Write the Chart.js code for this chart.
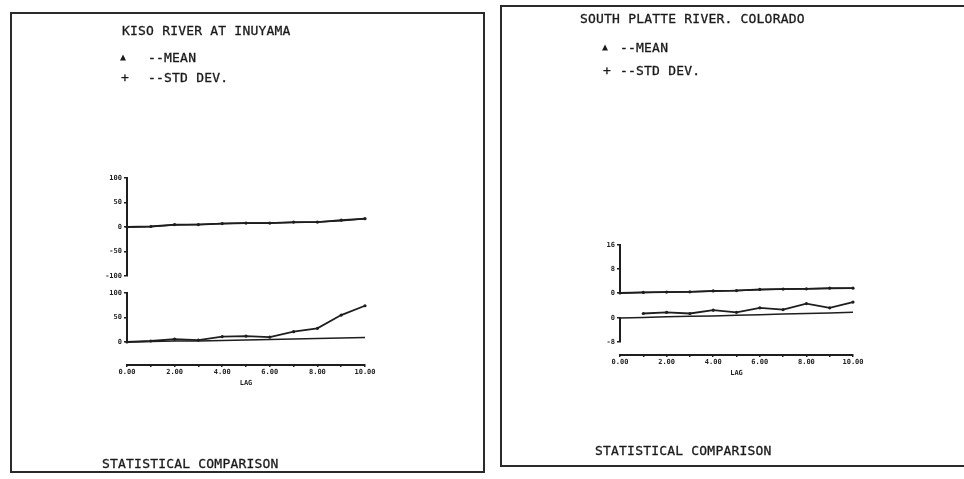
<!DOCTYPE html>
<html>
<head>
<meta charset="utf-8">
<script src="https://cdn.jsdelivr.net/npm/chart.js@4.4.1/dist/chart.umd.min.js"></script>
<style>
  body { margin: 0; background: #fff; width: 964px; height: 479px; position: relative; overflow: hidden;
         font-family: 'DejaVu Sans Mono', monospace; color: #1a1a1a; }
  .panel { position: absolute; border: 2px solid #2a2a2a; box-sizing: border-box; }
  .txt { position: absolute; font-size: 13px; letter-spacing: 0.2px; white-space: nowrap; line-height: 1;
         -webkit-text-stroke: 0.3px #1a1a1a; }
  .mark { position: absolute; font-size: 10px; line-height: 1; }
  canvas { position: absolute; }
</style>
</head>
<body>
<div class="panel" style="left:10px;top:12px;width:475px;height:461px"></div>
<div class="panel" style="left:500px;top:5px;width:470px;height:462px"></div>

<canvas id="kiso" width="475" height="461" style="left:10px;top:12px"></canvas>
<canvas id="platte" width="464" height="462" style="left:500px;top:5px"></canvas>

<div class="txt" style="left:122px;top:24px">KISO RIVER AT INUYAMA</div>
<div class="mark" style="left:120px;top:52px">▲</div>
<div class="txt" style="left:148px;top:51px">--MEAN</div>
<div class="txt" style="left:121px;top:71px">+</div>
<div class="txt" style="left:148px;top:71px">--STD DEV.</div>
<div class="txt" style="left:102px;top:457px">STATISTICAL COMPARISON</div>

<div class="txt" style="left:580px;top:12px">SOUTH PLATTE RIVER. COLORADO</div>
<div class="mark" style="left:602px;top:42px">▲</div>
<div class="txt" style="left:620px;top:41px">--MEAN</div>
<div class="txt" style="left:603px;top:64px">+</div>
<div class="txt" style="left:620px;top:64px">--STD DEV.</div>
<div class="txt" style="left:595px;top:444px">STATISTICAL COMPARISON</div>

<script>
const lags = [0, 1, 2, 3, 4, 5, 6, 7, 8, 9, 10];
const lagTicks = ['0.00', '2.00', '4.00', '6.00', '8.00', '10.00'];

// Kiso River at Inuyama
const kisoMeanHist = [0, 1, 4, 5, 7, 8, 8, 9, 10, 13, 17];
const kisoMeanGen = [0, 1, 5, 5, 7, 8, 8, 10, 10, 14, 17];
const kisoStdHist = [0, 1, 2, 2, 3, 4, 5, 6, 7, 8, 9];
const kisoStdGen = [0, 2, 6, 4, 11, 12, 10, 21, 28, 55, 74];
const kisoMeanTicks = [-100, -50, 0, 50, 100];
const kisoStdTicks = [0, 50, 100];

// South Platte River, Colorado
const platteMeanHist = [0, 0.2, 0.3, 0.4, 0.6, 0.8, 1.1, 1.3, 1.4, 1.5, 1.6];
const platteMeanGen = [0, 0.2, 0.3, 0.4, 0.7, 0.8, 1.2, 1.3, 1.4, 1.6, 1.6];
const platteStdHist = [0, 0.2, 0.4, 0.6, 0.7, 0.9, 1.1, 1.3, 1.5, 1.7, 1.9];
const platteStdGen = [null, 1.5, 1.9, 1.5, 2.6, 1.9, 3.4, 2.8, 4.8, 3.4, 5.3];
const platteMeanTicks = [0, 8, 16];
const platteStdTicks = [-8, 0];

const ink = '#1e1e1e';
const mono = 'DejaVu Sans Mono';
const tickFont = { family: mono, size: 7, weight: 'bold' };

const pts = arr => lags.map((l, i) => ({ x: l, y: arr[i] }));

function line(arr, axis, dots) {
  return {
    data: pts(arr),
    yAxisID: axis,
    borderColor: ink,
    borderWidth: dots ? 1.8 : 1.5,
    pointRadius: dots ? 1.6 : 0,
    pointBackgroundColor: ink,
    pointBorderWidth: 0,
    spanGaps: false,
    clip: false
  };
}

function yAxis(ticks, weight, stackWeight) {
  return {
    type: 'linear', position: 'left', stack: 'plot', stackWeight, weight,
    min: ticks[0], max: ticks[ticks.length - 1],
    afterFit: s => { s.width = 22; },
    afterBuildTicks: s => { s.ticks = ticks.map(v => ({ value: v })); },
    border: { color: ink, width: 2 },
    grid: { drawOnChartArea: false, tickLength: 3, color: ink, lineWidth: 1.5 },
    ticks: { autoSkip: false, padding: 2, color: ink, font: tickFont }
  };
}

function spacer(weight, stackWeight) {
  return {
    type: 'linear', position: 'left', stack: 'plot', stackWeight, weight,
    afterFit: s => { s.width = 22; },
    border: { display: false },
    grid: { display: false, drawTicks: false },
    ticks: { display: false }
  };
}

function riverChart(id, meanHist, meanGen, stdHist, stdGen, meanTicks, stdTicks, w, padding) {
  return new Chart(document.getElementById(id), {
    type: 'line',
    data: {
      datasets: [
        line(meanHist, 'yMean', false),
        line(meanGen, 'yMean', true),
        line(stdHist, 'yStd', false),
        line(stdGen, 'yStd', true)
      ]
    },
    options: {
      responsive: false,
      animation: false,
      layout: { padding },
      plugins: { legend: { display: false }, tooltip: { enabled: false } },
      scales: {
        x: {
          type: 'linear', position: 'bottom', min: 0, max: 10,
          afterFit: s => { s.height = 22; },
          border: { color: ink, width: 2 },
          grid: { drawOnChartArea: false, tickLength: 2, color: ink, lineWidth: 1.5 },
          ticks: {
            stepSize: 1, autoSkip: false, maxRotation: 0, padding: 1, color: ink, font: tickFont,
            callback: v => (v % 2 === 0 ? lagTicks[v / 2] : '')
          },
          title: { display: true, text: 'LAG', padding: 0, color: ink, font: tickFont }
        },
        yMean: yAxis(meanTicks, 4, w[0]),
        gapA: spacer(3, w[1]),
        yStd: yAxis(stdTicks, 2, w[2]),
        gapB: spacer(1, w[3])
      }
    }
  });
}

riverChart('kiso', kisoMeanHist, kisoMeanGen, kisoStdHist, kisoStdGen,
  kisoMeanTicks, kisoStdTicks, [98, 17, 49, 23],
  { left: 95, right: 120, top: 166, bottom: 86 });

riverChart('platte', platteMeanHist, platteMeanGen, platteStdHist, platteStdGen,
  platteMeanTicks, platteStdTicks, [48, 25, 24, 13],
  { left: 98, right: 111, top: 240, bottom: 90 });
</script>
</body>
</html>
